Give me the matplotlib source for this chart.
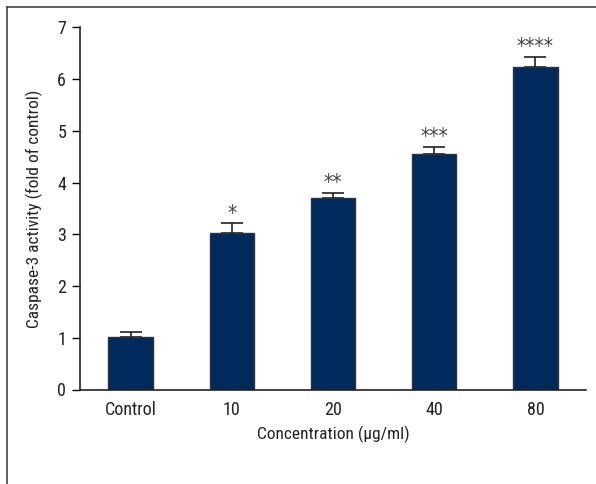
import matplotlib
matplotlib.use("Agg")
import matplotlib.pyplot as plt
from matplotlib.lines import Line2D

# Caspase-3 activity data
groups = ["Control", "10", "20", "40", "80"]
activity = [1.02, 3.02, 3.71, 4.56, 6.24]
err = [0.10, 0.19, 0.09, 0.13, 0.19]
stars = ["", "*", "**", "***", "****"]

plt.rcParams['font.family'] = ['Roboto Condensed', 'DejaVu Sans']
plt.rcParams['font.stretch'] = 'condensed'

fig = plt.figure(figsize=(5.96, 4.84), dpi=100)
ax = fig.add_axes([80/596, 1 - 389.5/484, 506/596, 362.2/484])

x = range(len(groups))
ax.bar(x, activity, width=0.44, color='#002a5c', edgecolor='#333333', linewidth=1.0, zorder=2)
ax.errorbar(x, activity, yerr=[[0]*len(err), err], fmt='none', ecolor='#222222',
            elinewidth=1.2, capsize=8, capthick=1.2, zorder=1)

# significance stars just above the caps
for i in x:
    if stars[i]:
        ax.annotate(stars[i], xy=(i, activity[i] + err[i]), xytext=(0, 2.5),
                    textcoords='offset points', ha='center', va='baseline',
                    fontsize=15, color='#444444', family='DejaVu Sans')

ax.set_xlim(-0.5, 4.5)
ax.set_ylim(0, 7)
ax.set_xticks(list(x))
ax.set_xticklabels(groups)
ax.set_yticks(range(8))
ax.tick_params(axis='x', length=0, pad=8, labelsize=13, labelcolor='#222222')
ax.tick_params(axis='y', length=6, width=1, pad=4, labelsize=13, labelcolor='#222222')
for s in ['top', 'right']:
    ax.spines[s].set_visible(False)
for s in ['left', 'bottom']:
    ax.spines[s].set_linewidth(1.2)
    ax.spines[s].set_color('#222222')
ax.set_xlabel("Concentration (µg/ml)", fontsize=12.5, color='#222222', labelpad=5)
ax.set_ylabel("Caspase-3 activity (fold of control)", fontsize=12.5, color='#222222', labelpad=10)

# frame around the panel (only top and left edges show)
fig.add_artist(Line2D([7/596, 7/596], [0, 1 - 7/484], color='#444444', lw=1.2))
fig.add_artist(Line2D([7/596, 1], [1 - 7/484, 1 - 7/484], color='#444444', lw=1.2))

fig.savefig("out.png", dpi=100)
